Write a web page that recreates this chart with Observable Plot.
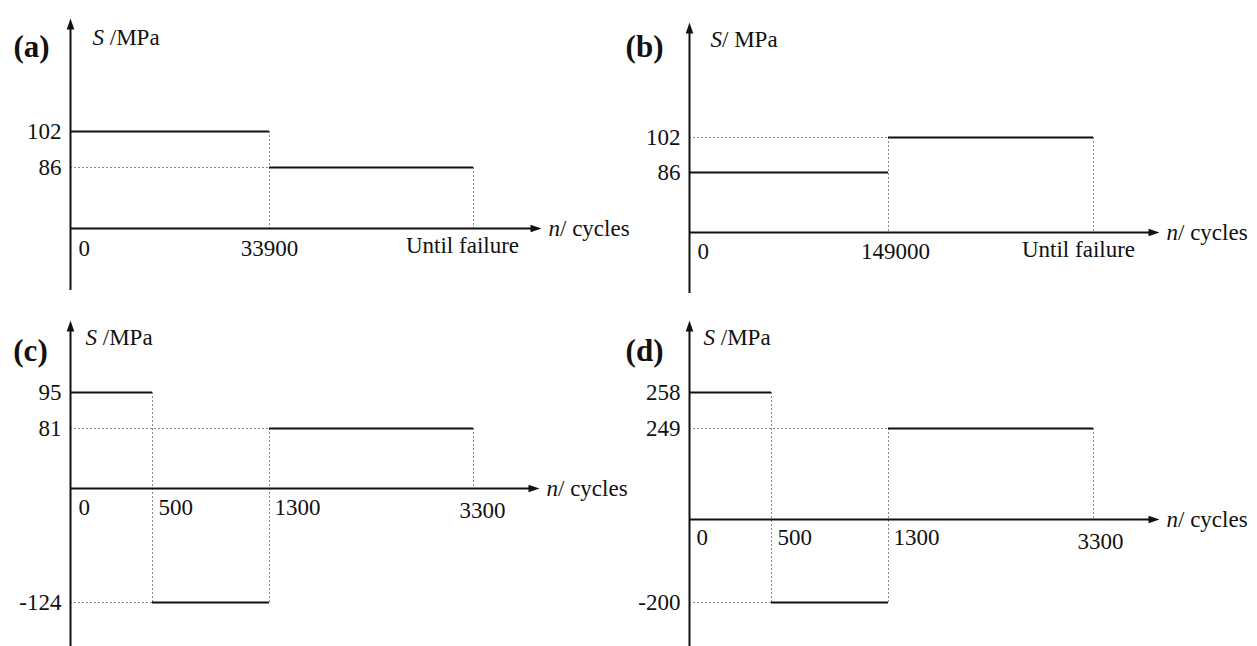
<!DOCTYPE html>
<html><head><meta charset="utf-8">
<script src="https://cdn.jsdelivr.net/npm/d3@7"></script>
<script src="https://cdn.jsdelivr.net/npm/@observablehq/plot@0.6"></script>
<style>
body{margin:0;background:#fff;}
#fig{position:relative;width:1257px;height:646px;overflow:hidden;background:#fff;}
.panel{position:absolute;}
.panel svg{overflow:visible;}
</style></head><body><div id="fig"></div>
<script>
// ---------------- data ----------------
const panelLetters = ["(a)", "(b)", "(c)", "(d)"];
const yTitles = ["S /MPa", "S/ MPa", "S /MPa", "S /MPa"];
const xTitle = "n/ cycles";
// breakpoints on the n axis (tick labels) and stress level of each block
const aBreaks = ["0", "33900", "Until failure"];
const aLevels = [102, 86];
const bBreaks = ["0", "149000", "Until failure"];
const bLevels = [86, 102];
const cBreaks = ["0", "500", "1300", "3300"];
const cLevels = [95, -124, 81];
const dBreaks = ["0", "500", "1300", "3300"];
const dLevels = [258, -200, 249];

// ---------------- layout (schematic, not to scale) ----------------
const layouts = [
  {left:0, top:0, width:619, height:305, xRange:[70,269,473], tipX:541, tipY:18, bottomY:290,
   yRange:[228,167,131], letterX:31, letterY:34, titleDx:22, titleY:28,
   ticks:[["start",8,20],["middle",0,20],["middle",-11,17]]},
  {left:619, top:0, width:638, height:305, xRange:[70,269,474], tipX:540, tipY:22, bottomY:293,
   yRange:[232,172,137], letterX:25, letterY:34, titleDx:21, titleY:30,
   ticks:[["start",8,19],["middle",7,19],["middle",-15,17]]},
  {left:0, top:305, width:619, height:341, xRange:[70,152,269,473], tipX:539, tipY:15, bottomY:341,
   yRange:[297,183,123,87], letterX:30, letterY:33, titleDx:15, titleY:23,
   ticks:[["start",8,19],["start",6,19],["start",5,19],["middle",9,22]]},
  {left:619, top:305, width:638, height:341, xRange:[70,152,269,474], tipX:540, tipY:15, bottomY:341,
   yRange:[297,214,123,87], letterX:25, letterY:33, titleDx:14, titleY:23,
   ticks:[["start",7,18],["start",6,18],["start",5,18],["middle",7,22]]}
];

const ink = "#111";
const gray = "#8a8a8a";
const FONT = "'Liberation Serif', 'Times New Roman', Times, serif";
const FS = 23;

function makePanel(breaks, levels, L, idx) {
  const k = breaks.length - 1;
  const segs = levels.map((v, j) => ({i0: j, i1: j + 1, v}));
  const verts = d3.range(1, k + 1).map(i => {
    const prev = levels[i - 1];
    const next = i < levels.length ? levels[i] : 0;
    return {i, y1: Math.max(prev, next, 0), y2: Math.min(prev, next, 0)};
  });
  const hDots = segs.filter(s => s.i0 > 0);
  const yDomain = Array.from(new Set([0, ...levels])).sort((a, b) => a - b);
  const dotted = {stroke: gray, strokeWidth: 1, strokeDasharray: "2,2"};
  const marks = [
    Plot.ruleY(hDots, {y: "v", x1: 0, x2: "i0", ...dotted}),
    Plot.ruleX(verts, {x: "i", y1: "y1", y2: "y2", ...dotted}),
    Plot.ruleY(segs, {y: "v", x1: "i0", x2: "i1", stroke: ink, strokeWidth: 2}),
    Plot.ruleX([0], {stroke: ink, strokeWidth: 2, insetTop: 5}),
    Plot.ruleY([0], {stroke: ink, strokeWidth: 2, insetRight: 5}),
    Plot.vector([0], {x: d => d, frameAnchor: "top", anchor: "end", rotate: 0, length: 11,
      shape: "spike", r: 3.8, fill: ink, stroke: "none"}),
    Plot.vector([0], {y: d => d, frameAnchor: "right", anchor: "end", rotate: 90, length: 11,
      shape: "spike", r: 3.8, fill: ink, stroke: "none"}),
    Plot.text(levels, {x: 0, y: d => d, text: d => String(d), textAnchor: "end", dx: -9,
      fontSize: FS, fill: ink}),
    ...breaks.map((t, i) => Plot.text([t], {x: i, y: 0, text: d => d,
      textAnchor: L.ticks[i][0], dx: L.ticks[i][1], dy: L.ticks[i][2], fontSize: FS, fill: ink})),
    Plot.text([yTitles[idx]], {x: 0, frameAnchor: "top", textAnchor: "start",
      dx: L.titleDx, dy: L.titleY - L.tipY, fontSize: FS, fill: ink}),
    Plot.text([xTitle], {y: 0, frameAnchor: "right", textAnchor: "start", dx: 7,
      fontSize: FS, fill: ink}),
    Plot.text([panelLetters[idx]], {frameAnchor: "top-left", textAnchor: "middle",
      dx: L.letterX - L.xRange[0], dy: L.letterY - L.tipY, fontSize: 31, fontWeight: "bold", fill: ink})
  ];
  const svg = Plot.plot({
    width: L.width, height: L.height,
    marginLeft: L.xRange[0], marginRight: L.width - L.tipX,
    marginTop: L.tipY, marginBottom: L.height - L.bottomY,
    x: {type: "linear", domain: d3.range(k + 1), range: L.xRange, axis: null},
    y: {type: "linear", domain: yDomain, range: L.yRange, axis: null},
    style: {fontFamily: FONT, background: "transparent", overflow: "visible"},
    marks
  });
  // italic variable symbols (S, n)
  svg.querySelectorAll("text").forEach(t => {
    const s = t.textContent;
    if (s === yTitles[idx] || s === xTitle) {
      const first = s[0], rest = s.slice(1);
      t.textContent = "";
      const ns = "http://www.w3.org/2000/svg";
      const a = document.createElementNS(ns, "tspan");
      a.setAttribute("font-style", "italic");
      a.textContent = first;
      const b = document.createElementNS(ns, "tspan");
      b.textContent = rest;
      t.appendChild(a); t.appendChild(b);
    }
  });
  const div = document.createElement("div");
  div.className = "panel";
  div.style.left = L.left + "px";
  div.style.top = L.top + "px";
  div.appendChild(svg);
  document.getElementById("fig").appendChild(div);
}

const allBreaks = [aBreaks, bBreaks, cBreaks, dBreaks];
const allLevels = [aLevels, bLevels, cLevels, dLevels];
allBreaks.forEach((br, i) => makePanel(br, allLevels[i], layouts[i], i));
</script></body></html>
